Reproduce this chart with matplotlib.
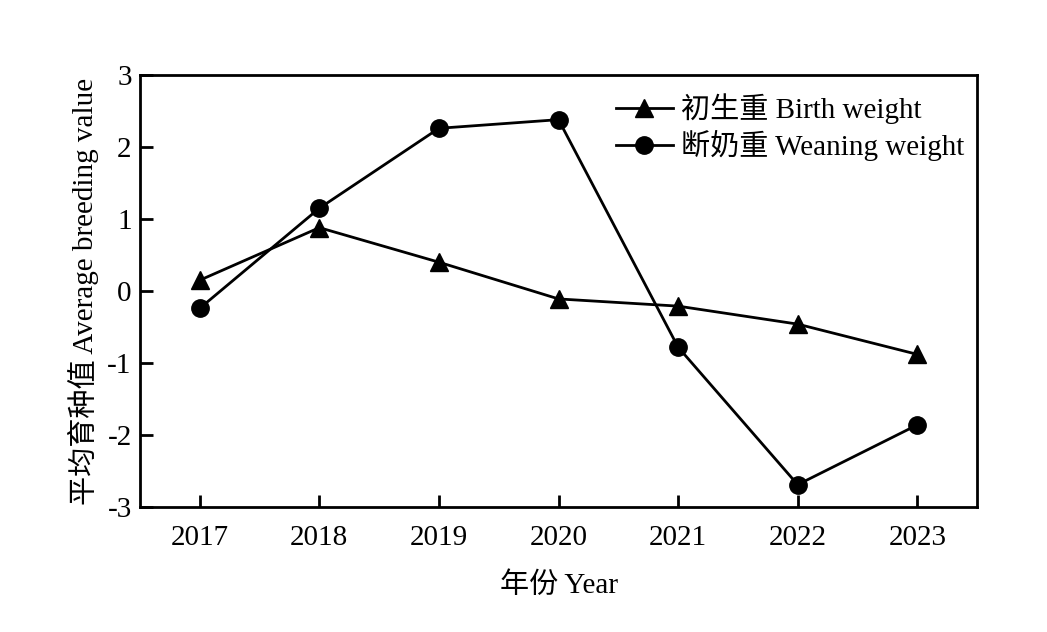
import numpy as np
import matplotlib.pyplot as plt

plt.rcParams['font.family'] = ['Liberation Serif', 'Noto Sans CJK SC']
plt.rcParams['axes.unicode_minus'] = False

years = [2017, 2018, 2019, 2020, 2021, 2022, 2023]
birth_weight = [0.15, 0.88, 0.40, -0.11, -0.21, -0.46, -0.88]
weaning_weight = [-0.24, 1.15, 2.26, 2.38, -0.78, -2.69, -1.86]
yticks = [-3, -2, -1, 0, 1, 2, 3]

fig = plt.figure(figsize=(10.47, 6.32), dpi=100)
ax = fig.add_axes([0.1337, 0.1978, 0.7995, 0.6835])

ax.plot(years, birth_weight, color='k', lw=2, marker='^', markersize=13,
        label='初生重 Birth weight')
ax.plot(years, weaning_weight, color='k', lw=2, marker='o', markersize=12.5,
        label='断奶重 Weaning weight')

ax.set_xlim(2016.5, 2023.5)
ax.set_ylim(-3, 3)
ax.set_xticks(years)
ax.set_yticks(yticks)
ax.set_yticklabels([str(v) for v in yticks])
ax.tick_params(direction='in', length=9, width=2, labelsize=21, pad=6)
ax.tick_params(axis='x', pad=13)
for s in ax.spines.values():
    s.set_linewidth(2)

ax.set_xlabel('年份 Year', fontsize=21, labelpad=15)
ax.set_ylabel('平均育种值 Average breeding value', fontsize=21, labelpad=6)

ax.legend(loc='upper right', bbox_to_anchor=(0.999, 0.985), frameon=False,
          fontsize=21, handlelength=1.95, handletextpad=0.3,
          labelspacing=0.22, borderaxespad=0.0)

fig.savefig('out.png', dpi=100)
